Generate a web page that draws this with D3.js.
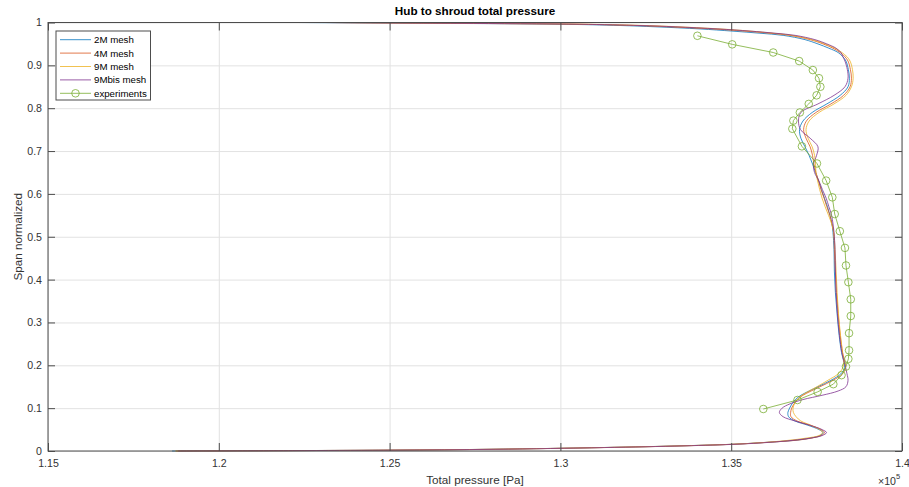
<!DOCTYPE html>
<html>
<head>
<meta charset="utf-8">
<script src="https://cdn.jsdelivr.net/npm/d3@7"></script>
<style>
  body { margin: 0; background: #fff; }
  svg { display: block; font-family: "Liberation Sans", Arial, Helvetica, sans-serif; }
</style>
</head>
<body>
<svg id="chart" width="909" height="487"></svg>
<script>
// Normalized span stations (hub = 0, shroud = 1) shared by the CFD profiles
const spanGrid = [
  1.000, 0.999, 0.998, 0.996, 0.993, 0.990, 0.985, 0.980, 0.975, 0.970,
  0.960, 0.950, 0.940, 0.930, 0.920, 0.910, 0.890, 0.870, 0.850, 0.830,
  0.810, 0.790, 0.770, 0.750, 0.730, 0.710, 0.690, 0.670, 0.650, 0.630,
  0.610, 0.590, 0.570, 0.550, 0.530, 0.510, 0.470, 0.420, 0.370, 0.320,
  0.270, 0.230, 0.210, 0.195, 0.180, 0.165, 0.150, 0.140, 0.130, 0.120,
  0.110, 0.100, 0.090, 0.080, 0.070, 0.060, 0.050, 0.043, 0.036, 0.030,
  0.025, 0.020, 0.016, 0.012, 0.008, 0.004, 0.002, 0.001, 0.000
];

// Circumferentially averaged total pressure [Pa] per mesh
const p2M = [
  122260, 124430, 126480, 129990, 131750, 132770, 134090, 135020, 135840, 136520,
  137160, 137540, 137860, 138130, 138270, 138360, 138430, 138460, 138420, 138190,
  137800, 137370, 137100, 137000, 137040, 137160, 137280, 137380, 137470, 137560,
  137640, 137730, 137820, 137890, 137950, 137980, 138010, 138020, 138050, 138100,
  138160, 138230, 138290, 138320, 138210, 137920, 137540, 137280, 137040, 136880,
  136780, 136710, 136660, 136680, 136870, 137250, 137570, 137690, 137600, 137310,
  136870, 135990, 135110, 133500, 131160, 127940, 125010, 122380, 118630
];
const p4M = [
  123020, 124870, 126910, 130430, 132180, 133150, 134440, 135380, 136140, 136720,
  137310, 137690, 137980, 138190, 138330, 138420, 138490, 138520, 138480, 138290,
  137920, 137480, 137200, 137120, 137190, 137310, 137380, 137420, 137480, 137560,
  137630, 137720, 137800, 137890, 137950, 138000, 138020, 138050, 138080, 138130,
  138190, 138260, 138320, 138350, 138260, 137980, 137600, 137340, 137100, 136940,
  136840, 136770, 136740, 136750, 136930, 137310, 137630, 137730, 137630, 137340,
  136900, 136020, 135140, 133560, 131220, 128000, 125070, 122440, 118750
];
const p9M = [
  123260, 125160, 127210, 130720, 132480, 133440, 134670, 135550, 136220, 136780,
  137370, 137750, 138040, 138240, 138390, 138480, 138550, 138570, 138520, 138360,
  138010, 137570, 137280, 137190, 137250, 137370, 137440, 137470, 137480, 137530,
  137590, 137660, 137750, 137850, 137940, 138000, 138040, 138070, 138100, 138140,
  138200, 138260, 138290, 138270, 138130, 137830, 137510, 137280, 137070, 136930,
  136850, 136810, 136820, 136900, 137040, 137340, 137590, 137670, 137570, 137190,
  136690, 135990, 135110, 133530, 131190, 127970, 125040, 122410, 118720
];
const p9Mbis = [
  123110, 125010, 127060, 130570, 132330, 133360, 134610, 135550, 136280, 136870,
  137450, 137800, 138070, 138210, 138270, 138330, 138400, 138420, 138330, 138010,
  137540, 137040, 136970, 137030, 137310, 137540, 137500, 137410, 137440, 137570,
  137670, 137780, 137860, 137940, 137980, 138010, 138040, 138050, 138070, 138110,
  138170, 138240, 138300, 138350, 138390, 138420, 138360, 138130, 137660, 137100,
  136720, 136490, 136410, 136520, 136870, 137310, 137660, 137790, 137660, 137310,
  136810, 136080, 135200, 133620, 131280, 128090, 125160, 122520, 118810
];

// Measured traverse
const expSpan = [
  0.969, 0.949, 0.930, 0.910, 0.889, 0.870, 0.850, 0.830, 0.810, 0.790,
  0.771, 0.752, 0.711, 0.671, 0.631, 0.592, 0.553, 0.513, 0.474, 0.433,
  0.394, 0.354, 0.315, 0.275, 0.235, 0.215, 0.197, 0.177, 0.156, 0.138,
  0.119, 0.098
];
const expPressure = [
  134010, 135030, 136230, 136990, 137390, 137570, 137610, 137500, 137270, 137010,
  136820, 136790, 137070, 137510, 137780, 137960, 138030, 138180, 138330, 138360,
  138430, 138500, 138500, 138450, 138450, 138430, 138360, 138230, 137990, 137530,
  136940, 135940
];

const xTicks = [115000, 120000, 125000, 130000, 135000, 140000];
const xTickLabels = ["1.15", "1.2", "1.25", "1.3", "1.35", "1.4"];
const yTicks = [0, 0.1, 0.2, 0.3, 0.4, 0.5, 0.6, 0.7, 0.8, 0.9, 1];
const yTickLabels = ["0", "0.1", "0.2", "0.3", "0.4", "0.5", "0.6", "0.7", "0.8", "0.9", "1"];

const seriesNames = ["2M mesh", "4M mesh", "9M mesh", "9Mbis mesh", "experiments"];
const seriesColors = ["#0072BD", "#D95319", "#EDB120", "#7E2F8E", "#77AC30"];
const meshSeries = [p2M, p4M, p9M, p9Mbis];

const svg = d3.select("#chart");
const plotLeft = 48, plotRight = 902, plotTop = 22.5, plotBottom = 451;
const plotW = plotRight - plotLeft, plotH = plotBottom - plotTop;
const axisColor = "#4d4d4d";
const textColor = "#333";
const lineOpacity = 0.78;

const x = d3.scaleLinear().domain([115000, 140000]).range([plotLeft, plotRight]);
const y = d3.scaleLinear().domain([0, 1]).range([plotBottom, plotTop]);

// grid
const grid = svg.append("g");
grid.append("g").attr("transform", `translate(0,${plotBottom})`)
  .call(d3.axisBottom(x).tickValues(xTicks).tickSize(-plotH).tickFormat(""))
  .call(g => g.select(".domain").remove())
  .selectAll("line").attr("stroke", "#e2e2e2");
grid.append("g").attr("transform", `translate(${plotLeft},0)`)
  .call(d3.axisLeft(y).tickValues(yTicks).tickSize(-plotW).tickFormat(""))
  .call(g => g.select(".domain").remove())
  .selectAll("line").attr("stroke", "#e2e2e2");

// CFD profiles
const line = d3.line()
  .x(d => x(d[0]))
  .y(d => y(d[1]))
  .curve(d3.curveCatmullRom.alpha(0.5));

const plot = svg.append("g");
meshSeries.forEach((vals, i) => {
  plot.append("path")
    .datum(vals.map((p, k) => [p, spanGrid[k]]))
    .attr("d", line)
    .attr("fill", "none")
    .attr("stroke", seriesColors[i])
    .attr("stroke-opacity", lineOpacity)
    .attr("stroke-width", 1);
});

// experiments
const expData = expPressure.map((p, k) => [p, expSpan[k]]);
plot.append("path")
  .datum(expData)
  .attr("d", d3.line().x(d => x(d[0])).y(d => y(d[1])))
  .attr("fill", "none")
  .attr("stroke", seriesColors[4])
  .attr("stroke-opacity", lineOpacity)
  .attr("stroke-width", 1);
plot.selectAll("circle.exp").data(expData).join("circle")
  .attr("class", "exp")
  .attr("cx", d => x(d[0]))
  .attr("cy", d => y(d[1]))
  .attr("r", 3.8)
  .attr("fill", "none")
  .attr("stroke", seriesColors[4])
  .attr("stroke-opacity", lineOpacity)
  .attr("stroke-width", 1);

// axes with inward ticks on all four sides
const styleAxis = g => {
  g.select(".domain").remove();
  g.selectAll("line").attr("stroke", axisColor);
  g.selectAll("text").attr("fill", textColor).style("font-size", "10.6px")
    .style("font-family", "'Liberation Sans', Arial, sans-serif");
};
svg.append("g").attr("transform", `translate(0,${plotBottom})`)
  .call(d3.axisBottom(x).tickValues(xTicks).tickFormat((d, i) => xTickLabels[i])
    .tickSizeInner(-8).tickSizeOuter(0).tickPadding(8))
  .call(styleAxis);
svg.append("g").attr("transform", `translate(0,${plotTop})`)
  .call(d3.axisTop(x).tickValues(xTicks).tickFormat("").tickSizeInner(-8).tickSizeOuter(0))
  .call(styleAxis);
svg.append("g").attr("transform", `translate(${plotLeft},0)`)
  .call(d3.axisLeft(y).tickValues(yTicks).tickFormat((d, i) => yTickLabels[i])
    .tickSizeInner(-7).tickSizeOuter(0).tickPadding(6))
  .call(styleAxis);
svg.append("g").attr("transform", `translate(${plotRight},0)`)
  .call(d3.axisRight(y).tickValues(yTicks).tickFormat("").tickSizeInner(-7).tickSizeOuter(0))
  .call(styleAxis);

svg.append("rect")
  .attr("x", plotLeft).attr("y", plotTop).attr("width", plotW).attr("height", plotH)
  .attr("fill", "none").attr("stroke", axisColor).attr("stroke-width", 1);

// titles
svg.append("text")
  .attr("x", (plotLeft + plotRight) / 2).attr("y", 15)
  .attr("text-anchor", "middle")
  .style("font-size", "11.7px").style("font-weight", "bold")
  .attr("fill", "#000")
  .text("Hub to shroud total pressure");
svg.append("text")
  .attr("x", (plotLeft + plotRight) / 2).attr("y", 484)
  .attr("text-anchor", "middle")
  .style("font-size", "11.7px")
  .attr("fill", textColor)
  .text("Total pressure [Pa]");
svg.append("text")
  .attr("transform", `translate(22,${(plotTop + plotBottom) / 2}) rotate(-90)`)
  .attr("text-anchor", "middle")
  .style("font-size", "11.7px")
  .attr("fill", textColor)
  .text("Span normalized");

// exponent marker
const expo = svg.append("text")
  .attr("x", 878).attr("y", 485)
  .style("font-size", "10.6px")
  .attr("fill", textColor);
expo.append("tspan").text("\u00d710");
expo.append("tspan").attr("dy", -6).style("font-size", "7.5px").text("5");

// legend
const legend = svg.append("g");
legend.append("rect")
  .attr("x", 56).attr("y", 31).attr("width", 94.5).attr("height", 69)
  .attr("fill", "#fff").attr("stroke", axisColor).attr("stroke-width", 1);
seriesNames.forEach((name, i) => {
  const cy = 39.7 + i * 13.4;
  legend.append("line")
    .attr("x1", 60).attr("x2", 91).attr("y1", cy).attr("y2", cy)
    .attr("stroke", seriesColors[i]).attr("stroke-opacity", lineOpacity)
    .attr("stroke-width", 1);
  if (i === 4) {
    legend.append("circle")
      .attr("cx", 75.5).attr("cy", cy).attr("r", 3.8)
      .attr("fill", "none").attr("stroke", seriesColors[i])
      .attr("stroke-opacity", lineOpacity).attr("stroke-width", 1);
  }
  legend.append("text")
    .attr("x", 94).attr("y", cy + 3.4)
    .style("font-size", "9.7px")
    .attr("fill", "#000")
    .text(name);
});
</script>
</body>
</html>
